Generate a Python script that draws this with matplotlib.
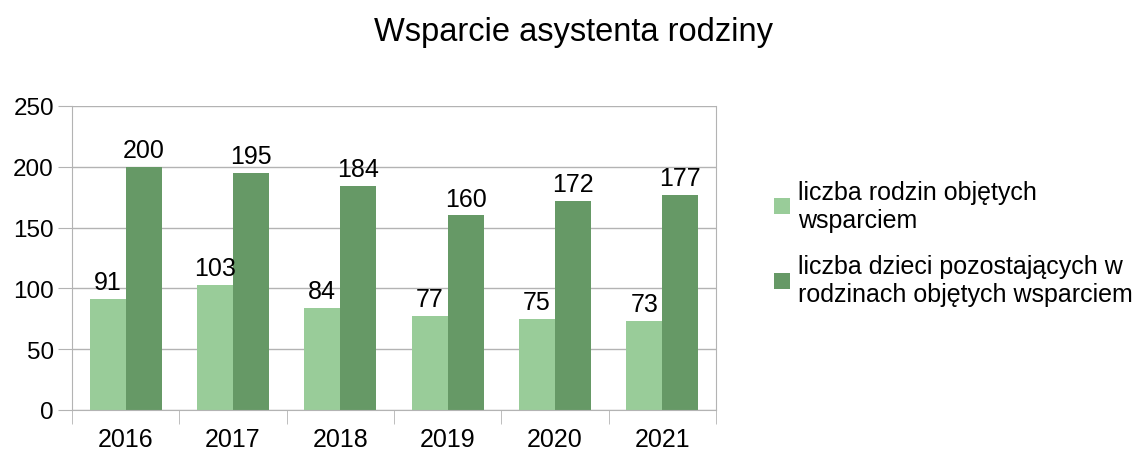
import numpy as np
import matplotlib.pyplot as plt

plt.rcParams['font.family'] = ['Liberation Sans', 'DejaVu Sans']

years = ['2016', '2017', '2018', '2019', '2020', '2021']
rodziny = [91, 103, 84, 77, 75, 73]
dzieci = [200, 195, 184, 160, 172, 177]
labels = ['liczba rodzin objętych\nwsparciem',
          'liczba dzieci pozostających w\nrodzinach objętych wsparciem']

light = '#99cc99'
dark = '#669966'
grid_c = '#b3b3b3'

fig = plt.figure(figsize=(11.46, 4.56), dpi=100)
ax = fig.add_axes([0.0628, 0.0987, 0.562, 0.6667])

index = np.arange(len(years))
w = 0.335
b1 = ax.bar(index - w / 2, rodziny, width=w, color=light, label=labels[0], zorder=2)
b2 = ax.bar(index + w / 2, dzieci, width=w, color=dark, label=labels[1], zorder=2)

for bars in (b1, b2):
    for rect in bars:
        h = rect.get_height()
        ax.text(rect.get_x() + rect.get_width() / 2, h + 4, str(int(h)),
                ha='center', va='bottom', fontsize=18)

ax.set_xlim(-0.5, len(years) - 0.5)
ax.set_ylim(0, 250)
ax.set_yticks(range(0, 251, 50))
ax.set_xticks(index)
ax.set_xticklabels(years)
ax.set_xticks(np.arange(-0.5, len(years), 1), minor=True)
ax.tick_params(axis='x', which='major', length=0, pad=12, labelsize=18)
ax.tick_params(axis='x', which='minor', length=10, color=grid_c)
ax.tick_params(axis='y', length=10, color=grid_c, labelsize=17.5, pad=3)
ax.yaxis.grid(True, color=grid_c, linewidth=1, zorder=0)
for s in ax.spines.values():
    s.set_color(grid_c)
ax.spines['top'].set_visible(False)

fig.suptitle('Wsparcie asystenta rodziny', fontsize=23.5, y=0.962)
fig.legend(handles=[b1, b2], loc='upper left', bbox_to_anchor=(0.66, 0.642),
           frameon=False, fontsize=18, handlelength=0.65, handleheight=0.6,
           handletextpad=0.3, labelspacing=0.9, borderpad=0.2)

fig.savefig('out.png', dpi=100)
